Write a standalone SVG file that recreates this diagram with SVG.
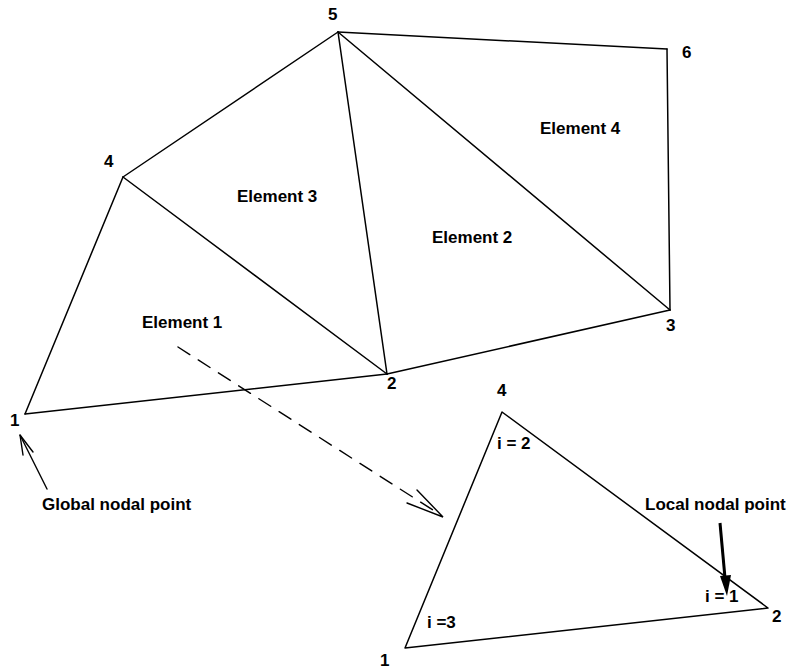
<svg xmlns="http://www.w3.org/2000/svg" width="787" height="670" viewBox="0 0 787 670">
<style>
.e{stroke:#000;stroke-width:1.5;fill:none;stroke-linecap:round;stroke-linejoin:round}
text{font-family:"Liberation Sans",Arial,Helvetica,sans-serif;font-weight:bold;font-size:17px;fill:#000}
.a{stroke:#000;stroke-width:1.4;fill:none;stroke-linecap:round}
</style>
<rect width="787" height="670" fill="#fff"/>
<g id="connectors">
<line class="e" x1="25" y1="414" x2="123" y2="177"/>
<line class="e" x1="25" y1="414" x2="387" y2="374"/>
<line class="e" x1="123" y1="177" x2="387" y2="374"/>
<line class="e" x1="123" y1="177" x2="338" y2="32"/>
<line class="e" x1="338" y1="32" x2="387" y2="374"/>
<line class="e" x1="338" y1="32" x2="670" y2="310"/>
<line class="e" x1="387" y1="374" x2="670" y2="310"/>
<line class="e" x1="338" y1="32" x2="667" y2="49"/>
<line class="e" x1="667" y1="49" x2="670" y2="310"/>
<polygon class="e" points="502,412 768,608 405,648"/>
<g id="mapping-arrow">
<line class="a" x1="178" y1="347" x2="436" y2="512" stroke-dasharray="14,10"/>
<polyline class="a" points="407,503 443,517 417,490"/>
</g>
<g id="global-arrow">
<line class="a" x1="47" y1="489" x2="20" y2="435"/>
<polyline class="a" points="23,455 20,435 33,452"/>
</g>
<g id="local-arrow">
<line x1="720" y1="523" x2="725" y2="578" stroke="#000" stroke-width="3"/>
<polygon points="727,596 720,576 731,575" fill="#000"/>
</g>
</g>
<g id="n1"><text x="10" y="426">1</text></g>
<g id="n2"><text x="387" y="389">2</text></g>
<g id="n3"><text x="666" y="331">3</text></g>
<g id="n4"><text x="104" y="167">4</text></g>
<g id="n5"><text x="328" y="20">5</text></g>
<g id="n6"><text x="682" y="58">6</text></g>
<g id="element1"><text x="142" y="328">Element 1</text></g>
<g id="element2"><text x="432" y="243">Element 2</text></g>
<g id="element3"><text x="237" y="202">Element 3</text></g>
<g id="element4"><text x="540" y="134">Element 4</text></g>
<g id="global-label"><text x="42" y="510">Global nodal point</text></g>
<g id="local-label"><text x="645" y="510">Local nodal point</text></g>
<g id="local-element">
<text x="497" y="396">4</text>
<text x="772" y="622">2</text>
<text x="380" y="666">1</text>
<text x="497" y="449">i = 2</text>
<text x="705" y="602">i = 1</text>
<text x="427" y="628">i =3</text>
</g>
</svg>
